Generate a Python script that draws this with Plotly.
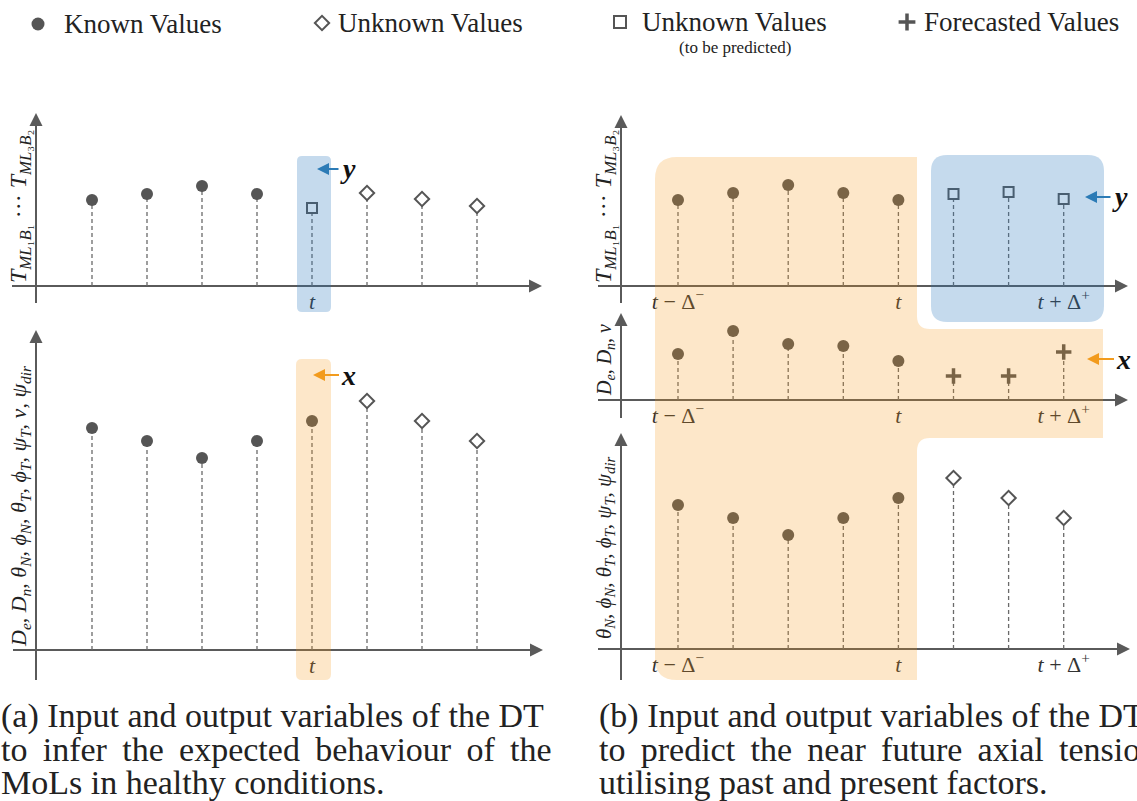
import plotly.graph_objects as go

W, H = 1137, 801
FONT = "Liberation Serif, DejaVu Serif, serif"
INK = "#555555"
TXT = "#222222"

# ---------------- data (heights, arbitrary units) ----------------
# (a) top: mooring-line axial tension
a_top_known_t = [1, 2, 3, 4]
a_top_known = [86, 92, 100, 92]
a_top_target_t = [5]
a_top_target = [78]
a_top_unknown_t = [6, 7, 8]
a_top_unknown = [93, 87, 80]
# (a) bottom: environmental / motion factors
a_bot_known_t = [1, 2, 3, 4, 5]
a_bot_known = [222, 209, 192, 209, 229]
a_bot_unknown_t = [6, 7, 8]
a_bot_unknown = [249, 229, 209]
# (b) top: axial tension
b_top_known_t = [1, 2, 3, 4, 5]
b_top_known = [86, 93, 101, 93, 86]
b_top_target_t = [6, 7, 8]
b_top_target = [92, 94, 87]
# (b) middle: De, Dn, v
b_mid_known_t = [1, 2, 3, 4, 5]
b_mid_known = [46, 69, 56, 54, 39]
b_mid_fore_t = [6, 7, 8]
b_mid_fore = [24, 24, 48]
# (b) bottom: angles
b_bot_known_t = [1, 2, 3, 4, 5]
b_bot_known = [144, 131, 114, 131, 151]
b_bot_unknown_t = [6, 7, 8]
b_bot_unknown = [171, 151, 131]

a_tick_vals = [5]
a_tick_text = ["<i>t</i>"]
b_tick_vals = [1, 5, 8]
b_tick_text = ["<i>t</i> \u2212 \u0394<sup>\u2212</sup>", "<i>t</i>", "<i>t</i> + \u0394<sup>+</sup>"]

legend_labels = ["Known Values", "Unknown Values", "Unknown Values", "Forecasted Values"]
legend_note = "(to be predicted)"

y_labels = {
    "a_top": "<i>T</i><sub><i>ML</i>\u2081<i>B</i>\u2081</sub> \u00b7\u00b7\u00b7 <i>T</i><sub><i>ML</i>\u2083<i>B</i>\u2082</sub>",
    "a_bot": "<i>D<sub>e</sub></i>, <i>D<sub>n</sub></i>, <i>\u03b8<sub>N</sub></i>, <i>\u03d5<sub>N</sub></i>, <i>\u03b8<sub>T</sub></i>, <i>\u03d5<sub>T</sub></i>, <i>\u03c8<sub>T</sub></i>, <i>v</i>, <i>\u03c8<sub>dir</sub></i>",
    "b_top": "<i>T</i><sub><i>ML</i>\u2081<i>B</i>\u2081</sub> \u00b7\u00b7\u00b7 <i>T</i><sub><i>ML</i>\u2083<i>B</i>\u2082</sub>",
    "b_mid": "<i>D<sub>e</sub></i>, <i>D<sub>n</sub></i>, <i>v</i>",
    "b_bot": "<i>\u03b8<sub>N</sub></i>, <i>\u03d5<sub>N</sub></i>, <i>\u03b8<sub>T</sub></i>, <i>\u03d5<sub>T</sub></i>, <i>\u03c8<sub>T</sub></i>, <i>\u03c8<sub>dir</sub></i>",
}
y_label_size = {"a_top": 24, "a_bot": 22, "b_top": 24, "b_mid": 20, "b_bot": 21}

cap_a = ["(a) Input and output variables of the DT",
         "to\u2009 infer\u2009 the\u2009 expected\u2009 behaviour\u2009 of\u2009 the",
         "MoLs in healthy conditions."]
cap_b = ["(b) Input and output variables of the DT",
         "to\u2009 predict\u2009 the\u2009 near\u2009 future\u2009 axial\u2009 tension",
         "utilising past and present factors."]

# ---------------- layout geometry (pixels) ----------------
def PX(x):
    return x / W

def PY(y):
    return 1 - y / H

GEOM = {
    "a_top": dict(left=12, right=542, top=113, axis=286, x0=92, step=55.0, yx=36, ybot=303, lx=20, ly=207),
    "a_bot": dict(left=13, right=543, top=330, axis=650, x0=92, step=55.0, yx=36, ybot=680, lx=20, ly=506),
    "b_top": dict(left=598, right=1128, top=115, axis=286, x0=678, step=55.1, yx=621, ybot=303, lx=605, ly=207),
    "b_mid": dict(left=598, right=1128, top=313, axis=400, x0=678, step=55.1, yx=621, ybot=418, lx=605, ly=360),
    "b_bot": dict(left=598, right=1130, top=433, axis=649, x0=678, step=55.1, yx=621, ybot=680, lx=605, ly=548),
}
TICKS = {"a_top": (a_tick_vals, a_tick_text), "a_bot": (a_tick_vals, a_tick_text),
         "b_top": (b_tick_vals, b_tick_text), "b_mid": (b_tick_vals, b_tick_text),
         "b_bot": (b_tick_vals, b_tick_text)}

STYLE = {
    "known": dict(symbol="circle", size=12, color=INK),
    "unknown": dict(symbol="diamond", size=11, color="white", line=dict(color=INK, width=2)),
    "target": dict(symbol="square", size=10, color="white", line=dict(color=INK, width=2)),
    "forecast": dict(symbol="cross-thin", size=11, color=INK, line=dict(color=INK, width=3.5)),
}

SERIES = {
    "a_top": [(a_top_known_t, a_top_known, "known"), (a_top_target_t, a_top_target, "target"),
              (a_top_unknown_t, a_top_unknown, "unknown")],
    "a_bot": [(a_bot_known_t, a_bot_known, "known"), (a_bot_unknown_t, a_bot_unknown, "unknown")],
    "b_top": [(b_top_known_t, b_top_known, "known"), (b_top_target_t, b_top_target, "target")],
    "b_mid": [(b_mid_known_t, b_mid_known, "known"), (b_mid_fore_t, b_mid_fore, "forecast")],
    "b_bot": [(b_bot_known_t, b_bot_known, "known"), (b_bot_unknown_t, b_bot_unknown, "unknown")],
}

fig = go.Figure()
layout_axes = {}
shapes = []
annotations = []
AX_COLOR = "#5a5a5a"

for k, (name, g) in enumerate(GEOM.items(), start=1):
    sfx = "" if k == 1 else str(k)
    xr = [1 + (g["left"] - g["x0"]) / g["step"], 1 + (g["right"] - g["x0"]) / g["step"]]
    tv, tt = TICKS[name]
    layout_axes["xaxis" + sfx] = dict(domain=[PX(g["left"]), PX(g["right"])], range=xr,
                                      anchor="y" + sfx, showgrid=False, zeroline=False,
                                      showline=False, ticks="", tickvals=tv, ticktext=tt,
                                      tickfont=dict(family=FONT, size=22, color="#333333"),
                                      fixedrange=True)
    layout_axes["yaxis" + sfx] = dict(domain=[PY(g["axis"]), PY(g["top"])],
                                      range=[0, g["axis"] - g["top"]], anchor="x" + sfx,
                                      visible=False, fixedrange=True)
    # stems
    for t, v, kind in SERIES[name]:
        xs, ys = [], []
        for ti, vi in zip(t, v):
            xs += [ti, ti, None]
            ys += [0, vi, None]
        fig.add_trace(go.Scatter(x=xs, y=ys, mode="lines", xaxis="x" + sfx, yaxis="y" + sfx,
                                 line=dict(color="#6a6a6a", width=1.3, dash="4px,3px"),
                                 hoverinfo="skip", showlegend=False))
    for t, v, kind in SERIES[name]:
        fig.add_trace(go.Scatter(x=t, y=v, mode="markers", xaxis="x" + sfx, yaxis="y" + sfx,
                                 marker=STYLE[kind], cliponaxis=False, showlegend=False,
                                 hoverinfo="skip"))
    # axis lines
    shapes.append(dict(type="line", xref="paper", yref="paper", layer="below",
                       x0=PX(g["left"]), x1=PX(g["right"] - 4), y0=PY(g["axis"]), y1=PY(g["axis"]),
                       line=dict(color=AX_COLOR, width=2)))
    shapes.append(dict(type="line", xref="paper", yref="paper", layer="below",
                       x0=PX(g["yx"]), x1=PX(g["yx"]), y0=PY(g["ybot"]), y1=PY(g["top"] + 4),
                       line=dict(color=AX_COLOR, width=2)))
    annotations.append(dict(xref="paper", yref="paper", x=PX(g["right"]), y=PY(g["axis"]),
                            ax=-14, ay=0, text="", showarrow=True, arrowhead=2, arrowsize=1.3,
                            arrowwidth=2, arrowcolor=AX_COLOR, standoff=0))
    annotations.append(dict(xref="paper", yref="paper", x=PX(g["yx"]), y=PY(g["top"]),
                            ax=0, ay=14, text="", showarrow=True, arrowhead=2, arrowsize=1.3,
                            arrowwidth=2, arrowcolor=AX_COLOR, standoff=0))
    annotations.append(dict(xref="paper", yref="paper", x=PX(g["lx"]), y=PY(g["ly"]),
                            text=y_labels[name], textangle=-90, showarrow=False,
                            font=dict(family=FONT, size=y_label_size[name], color=TXT),
                            xanchor="center", yanchor="middle"))

# ---------------- highlight regions ----------------
ORANGE = "rgba(245,152,20,0.23)"
BLUE = "rgba(40,120,190,0.27)"


def path_px(cmds):
    out = []
    for c in cmds:
        if isinstance(c, str):
            out.append(c)
        else:
            out.append(f"{PX(c[0]):.5f},{PY(c[1]):.5f}")
    return " ".join(out)


def rrect(x0, y0, x1, y1, r):
    return path_px(["M", (x0 + r, y0), "L", (x1 - r, y0), "Q", (x1, y0), (x1, y0 + r),
                    "L", (x1, y1 - r), "Q", (x1, y1), (x1 - r, y1), "L", (x0 + r, y1),
                    "Q", (x0, y1), (x0, y1 - r), "L", (x0, y0 + r), "Q", (x0, y0), (x0 + r, y0), "Z"])


def stem_px(name, idx):
    g = GEOM[name]
    return g["x0"] + (idx - 1) * g["step"]


ca = stem_px("a_top", 5)
shapes.append(dict(type="path", xref="paper", yref="paper", layer="above", line=dict(width=0),
                   fillcolor=BLUE, path=rrect(ca - 15, 156, ca + 19, 312, 5)))
ca2 = stem_px("a_bot", 5)
shapes.append(dict(type="path", xref="paper", yref="paper", layer="above", line=dict(width=0),
                   fillcolor=ORANGE, path=rrect(ca2 - 16, 359, ca2 + 19, 680, 6)))

L, T, R, BT, BR, BB, BOT, r, ri = 655, 157, 917, 329, 1103, 438, 680, 22, 13
orange_b = path_px(["M", (L, T + r), "Q", (L, T), (L + r, T), "L", (R, T), "L", (R, BT - ri),
                    "Q", (R, BT), (R + ri, BT), "L", (BR, BT), "L", (BR, BB), "L", (R + ri, BB),
                    "Q", (R, BB), (R, BB + ri), "L", (R, BOT), "L", (L + r, BOT),
                    "Q", (L, BOT), (L, BOT - r), "Z"])
shapes.append(dict(type="path", xref="paper", yref="paper", layer="above", line=dict(width=0),
                   fillcolor=ORANGE, path=orange_b))
shapes.append(dict(type="path", xref="paper", yref="paper", layer="above", line=dict(width=0),
                   fillcolor=BLUE, path=rrect(931, 155, 1104, 322, 16)))

# ---------------- x / y pointer labels ----------------
YBLUE = "#2c7bb6"
XORANGE = "#f29b1d"
for tip, off, txt, col in [((317, 169), 31, "<b><i>y</i></b>", YBLUE),
                           ((313, 375), 35, "<b><i>x</i></b>", XORANGE),
                           ((1085, 197), 35, "<b><i>y</i></b>", YBLUE),
                           ((1087, 359), 36, "<b><i>x</i></b>", XORANGE)]:
    annotations.append(dict(xref="paper", yref="paper", x=PX(tip[0]), y=PY(tip[1]), ax=off, ay=0,
                            text=txt, showarrow=True, arrowhead=2, arrowsize=1.2, arrowwidth=2,
                            arrowcolor=col, standoff=0,
                            font=dict(family=FONT, size=28, color="#111111")))

# ---------------- legend (drawn in its own pixel-space axes) ----------------
LEG_SYM = [("known", 38, 24, 13), ("unknown", 322, 23, 11), ("target", 620, 22, 12), ("forecast", 907, 22, 12)]
LEG_TXT_X = [62, 336, 640, 922]
for (kind, lx, ly, sz) in LEG_SYM:
    st = dict(STYLE[kind])
    st["size"] = sz
    fig.add_trace(go.Scatter(x=[lx], y=[ly], mode="markers", xaxis="x6", yaxis="y6",
                             marker=st, cliponaxis=False, showlegend=False, hoverinfo="skip"))
layout_axes["xaxis6"] = dict(domain=[0, 1], range=[0, W], visible=False, anchor="y6", fixedrange=True)
layout_axes["yaxis6"] = dict(domain=[0, 1], range=[H, 0], visible=False, anchor="x6", fixedrange=True)
for lbl, tx, (_, _, ly, _) in zip(legend_labels, LEG_TXT_X, LEG_SYM):
    annotations.append(dict(xref="paper", yref="paper", x=PX(tx), y=PY(ly), text=lbl,
                            showarrow=False, xanchor="left", yanchor="middle",
                            font=dict(family=FONT, size=27, color=TXT)))
annotations.append(dict(xref="paper", yref="paper", x=PX(735), y=PY(47), text=legend_note,
                        showarrow=False, xanchor="center", yanchor="middle",
                        font=dict(family=FONT, size=17, color=TXT)))

# ---------------- captions ----------------
for i, (la, lb) in enumerate(zip(cap_a, cap_b)):
    yy = 716 + 33 * i
    annotations.append(dict(xref="paper", yref="paper", x=PX(0), y=PY(yy), text=la, showarrow=False,
                            xanchor="left", yanchor="middle", borderpad=0,
                            font=dict(family=FONT, size=34, color=TXT)))
    annotations.append(dict(xref="paper", yref="paper", x=PX(598), y=PY(yy), text=lb, showarrow=False,
                            xanchor="left", yanchor="middle", borderpad=0,
                            font=dict(family=FONT, size=34, color=TXT)))

fig.update_layout(width=W, height=H, margin=dict(l=0, r=0, t=0, b=0),
                  font=dict(family=FONT, color=TXT),
                  paper_bgcolor="white", plot_bgcolor="rgba(0,0,0,0)",
                  shapes=shapes, annotations=annotations, showlegend=False, **layout_axes)

fig.write_html("out.html", config={"displayModeBar": False},
               post_script="document.body.style.margin='0px'; document.body.style.overflow='hidden';")
